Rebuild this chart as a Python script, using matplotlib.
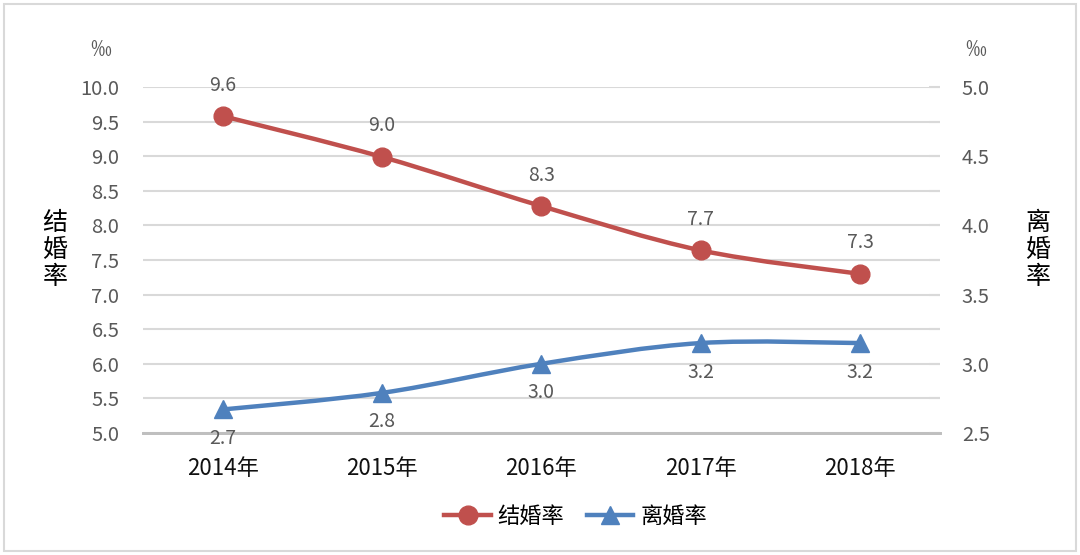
import matplotlib
matplotlib.use("Agg")
import matplotlib.pyplot as plt
from matplotlib.path import Path
from matplotlib.patches import PathPatch, Rectangle
from matplotlib.lines import Line2D
from matplotlib.ticker import MultipleLocator, FormatStrFormatter

plt.rcParams['font.family'] = ['Noto Sans CJK SC', 'DejaVu Sans']

years = ['2014年', '2015年', '2016年', '2017年', '2018年']
marriage = [9.58, 8.99, 8.28, 7.64, 7.30]
marriage_labels = ['9.6', '9.0', '8.3', '7.7', '7.3']
divorce = [2.67, 2.79, 3.00, 3.15, 3.15]
divorce_labels = ['2.7', '2.8', '3.0', '3.2', '3.2']

RED = '#c0504d'
BLUE = '#4f81bd'
LABEL_GREY = '#595959'


def smooth_path(xs, ys):
    # Excel-style smoothed line: Catmull-Rom segments as cubic Beziers
    pts = list(zip(xs, ys))
    verts = [pts[0]]
    codes = [Path.MOVETO]
    n = len(pts)
    for i in range(n - 1):
        p0 = pts[i - 1] if i > 0 else pts[i]
        p1 = pts[i]
        p2 = pts[i + 1]
        p3 = pts[i + 2] if i + 2 < n else pts[i + 1]
        c1 = (p1[0] + (p2[0] - p0[0]) / 6, p1[1] + (p2[1] - p0[1]) / 6)
        c2 = (p2[0] - (p3[0] - p1[0]) / 6, p2[1] - (p3[1] - p1[1]) / 6)
        verts += [c1, c2, p2]
        codes += [Path.CURVE4] * 3
    return Path(verts, codes)


fig = plt.figure(figsize=(10.8, 5.55), dpi=100)
ax = fig.add_axes([0.1324, 0.2198, 0.7376, 0.6234])
ax2 = ax.twinx()

x = list(range(len(years)))

ax.add_patch(PathPatch(smooth_path(x, marriage), fill=False, edgecolor=RED,
                       lw=3.2, capstyle='round', zorder=3))
ax.plot(x, marriage, linestyle='none', marker='o', markersize=13.5,
        color=RED, zorder=4)
ax2.add_patch(PathPatch(smooth_path(x, divorce), fill=False, edgecolor=BLUE,
                        lw=3.2, capstyle='round', zorder=3))
ax2.plot(x, divorce, linestyle='none', marker='^', markersize=13.5,
         color=BLUE, zorder=4)

for xi, v, lab in zip(x, marriage, marriage_labels):
    ax.annotate(lab, (xi, v), xytext=(0, 31), textcoords='offset pixels',
                ha='center', va='center', fontsize=14, color=LABEL_GREY)
for xi, v, lab in zip(x, divorce, divorce_labels):
    ax2.annotate(lab, (xi, v), xytext=(0, -29), textcoords='offset pixels',
                 ha='center', va='center', fontsize=14, color=LABEL_GREY)

ax.set_xlim(-0.5, 4.5)
ax.set_ylim(5.0, 10.0)
ax2.set_ylim(2.5, 5.0)
ax.yaxis.set_major_locator(MultipleLocator(0.5))
ax2.yaxis.set_major_locator(MultipleLocator(0.5))
ax2.yaxis.set_minor_locator(MultipleLocator(0.25))
ax.yaxis.set_major_formatter(FormatStrFormatter('%.1f'))
ax2.yaxis.set_major_formatter(FormatStrFormatter('%.1f'))

ax.set_xticks(x)
ax.set_xticklabels(years, fontsize=16, color='#111111')
ax.tick_params(axis='x', length=0, pad=17)
ax.tick_params(axis='y', length=0, pad=17, labelsize=14.5, labelcolor=LABEL_GREY)
ax2.tick_params(axis='y', which='both', direction='in', length=8,
                color='#d9d9d9', width=1.5, pad=16, labelsize=14.5,
                labelcolor=LABEL_GREY)

ax.grid(axis='y', color='#d9d9d9', lw=1.5)
ax.set_axisbelow(True)
for a in (ax, ax2):
    for s in ('top', 'left', 'right'):
        a.spines[s].set_visible(False)
    a.spines['bottom'].set_color('#bfbfbf')
    a.spines['bottom'].set_linewidth(2)

fig.text(0.0935, 0.91, '‰', ha='center', va='center', fontsize=15, color=LABEL_GREY)
fig.text(0.903, 0.91, '‰', ha='center', va='center', fontsize=15, color=LABEL_GREY)
fig.text(0.051, 0.55, '结\n婚\n率', ha='center', va='center', fontsize=18,
         linespacing=1.05, color='black')
fig.text(0.961, 0.55, '离\n婚\n率', ha='center', va='center', fontsize=18,
         linespacing=1.05, color='black')

handles = [Line2D([], [], color=RED, lw=3.2, marker='o', markersize=13.5),
           Line2D([], [], color=BLUE, lw=3.2, marker='^', markersize=13.5)]
fig.legend(handles, ['结婚率', '离婚率'], loc='center', bbox_to_anchor=(0.533, 0.07),
           ncol=2, frameon=False, fontsize=16, handlelength=2.1,
           columnspacing=1.0, handletextpad=0.3)

fig.add_artist(Rectangle((0.004, 0.008), 0.992, 0.984, transform=fig.transFigure,
                         fill=False, edgecolor='#d9d9d9', lw=1.5))

fig.savefig('out.png', dpi=100)
